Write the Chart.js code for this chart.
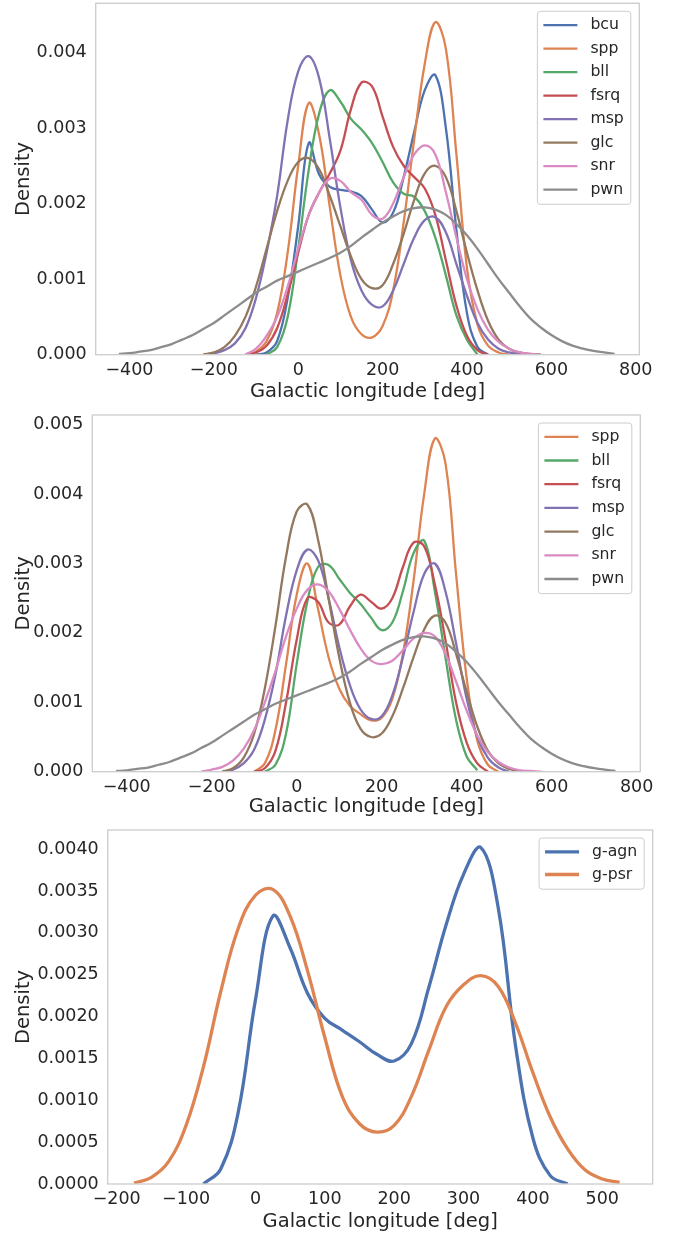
<!DOCTYPE html>
<html lang="en">
<head>
    <meta charset="UTF-8">
    <title>Galactic longitude density</title>
    <script src="https://cdn.jsdelivr.net/npm/chart.js"></script>
    <style>
        body { margin: 0; background: #fff; width: 681px; height: 1237px; position: relative; overflow: hidden; }
        .panel { position: absolute; left: 0; width: 681px; }
        .panel canvas { display: block; }
    </style>
</head>
<body>
    <div class="panel" style="top:0;height:410px"><canvas id="chartTop" width="681" height="410"></canvas></div>
    <div class="panel" style="top:410px;height:410px"><canvas id="chartMid" width="681" height="410"></canvas></div>
    <div class="panel" style="top:820px;height:417px"><canvas id="chartBottom" width="681" height="417"></canvas></div>

    <script>
        const _ = null;

        // longitude grid for the two upper panels
        const lonAB = [-425, -400, -375, -350, -325, -300, -275, -250,
            -225, -200, -175, -150, -125, -100,
            -75, -50, -25, 0, 25, 50, 75, 100, 125, 150, 175, 200,
            225, 250, 275, 300, 325, 350, 375, 400, 425, 450, 475, 500,
            525, 550, 575, 600, 625, 650, 675, 700, 725, 750];

        // top panel
        const bcuA = [_, _, _, _, _, _, _, _,
            _, _, _, _, _, 0,
            0.00003, 0.00018, 0.00075, 0.0017, 0.0028, 0.00238, 0.00222, 0.00218, 0.00216, 0.0021, 0.00192, 0.00175,
            0.00188, 0.00235, 0.00295, 0.0035, 0.0037, 0.003, 0.00165, 0.00055, 0.0001, 0, _, _,
            _, _, _, _, _, _, _, _, _, _];
        const sppA = [_, _, _, _, _, _, _, _,
            _, _, _, _, 0, 0.00004,
            0.00018, 0.00055, 0.00135, 0.0025, 0.00333, 0.0029, 0.00195, 0.00105, 0.0005, 0.00027, 0.00023, 0.00038,
            0.00085, 0.00175, 0.00285, 0.00385, 0.0044, 0.00405, 0.00265, 0.00115, 0.0004, 0.00012, 0.00003, 0,
            _, _, _, _, _, _, _, _, _, _];
        const bllA = [_, _, _, _, _, _, _, _,
            _, _, _, _, _, _,
            0, 0.0001, 0.0005, 0.0014, 0.00245, 0.0032, 0.0035, 0.00335, 0.00312, 0.00298, 0.0028, 0.00255,
            0.00228, 0.00213, 0.00209, 0.0019, 0.00155, 0.00105, 0.00052, 0.0002, 0, _, _, _,
            _, _, _, _, _, _, _, _, _, _];
        const fsrqA = [_, _, _, _, _, _, _, _,
            _, _, _, _, 0, 0.00003,
            0.00012, 0.00035, 0.0008, 0.00135, 0.00185, 0.00215, 0.0024, 0.0027, 0.00325, 0.0036, 0.00355, 0.00315,
            0.00275, 0.0025, 0.00235, 0.0022, 0.00185, 0.00125, 0.00065, 0.00025, 0.00006, 0, _, _,
            _, _, _, _, _, _, _, _, _, _];
        const mspA = [_, _, _, _, _, _, _, _,
            0, 0.00002, 0.00006, 0.00015, 0.00035, 0.00075,
            0.00135, 0.0021, 0.0031, 0.00375, 0.00395, 0.00365, 0.00285, 0.00195, 0.00125, 0.00085, 0.00066, 0.00064,
            0.00085, 0.0012, 0.00155, 0.00178, 0.00182, 0.00162, 0.0012, 0.00078, 0.00042, 0.0002, 0.00008, 0.00003,
            0.00001, 0, 0, _, _, _, _, _, _, _];
        const glcA = [_, _, _, _, _, _, _, _,
            0, 0.00003, 0.0001, 0.00025, 0.0005, 0.0009,
            0.0014, 0.0019, 0.0023, 0.00255, 0.0026, 0.00245, 0.0021, 0.0017, 0.0013, 0.001, 0.00088, 0.00092,
            0.0012, 0.0016, 0.00205, 0.0024, 0.0025, 0.00235, 0.0019, 0.00135, 0.00085, 0.00045, 0.0002, 0.00008,
            0.00003, 0.00001, 0, _, _, _, _, _, _, _];
        const snrA = [_, _, _, _, _, _, _, _,
            _, _, _, _, 0, 0.00008,
            0.00025, 0.0005, 0.0009, 0.0014, 0.00185, 0.00215, 0.00233, 0.0023, 0.00215, 0.00205, 0.00185, 0.0018,
            0.002, 0.00235, 0.00265, 0.00277, 0.00265, 0.00215, 0.00155, 0.001, 0.0006, 0.00033, 0.00017, 0.00008,
            0.00003, 0.00001, 0, _, _, _, _, _, _, _];
        const pwnAB = [0.00001, 0.00002, 0.00004, 0.00006, 0.0001, 0.00014, 0.0002, 0.00026,
            0.00034, 0.00042, 0.00052, 0.00062, 0.00072, 0.00082,
            0.0009, 0.00098, 0.00104, 0.0011, 0.00116, 0.00122, 0.00128, 0.00135, 0.00144, 0.00155, 0.00165, 0.00175,
            0.00183, 0.0019, 0.00194, 0.00195, 0.00192, 0.00185, 0.00173, 0.00158, 0.0014, 0.0012, 0.001, 0.00082,
            0.00064, 0.00048, 0.00036, 0.00026, 0.00018, 0.00012, 0.00008, 0.00005, 0.00003, 0.00001];

        // middle panel
        const sppB = [_, _, _, _, _, _, _, _,
            _, _, _, _, _, 0,
            0.00012, 0.0006, 0.00155, 0.00255, 0.003, 0.00235, 0.00165, 0.0012, 0.00095, 0.00083, 0.00074, 0.00078,
            0.00105, 0.0017, 0.00275, 0.004, 0.0048, 0.00445, 0.00285, 0.00135, 0.00045, 0.0001, 0, _,
            _, _, _, _, _, _, _, _, _, _];
        const bllB = [_, _, _, _, _, _, _, _,
            _, _, _, _, _, _,
            0, 0.0001, 0.00055, 0.00155, 0.00245, 0.00295, 0.00298, 0.00278, 0.00258, 0.00242, 0.00222, 0.00204,
            0.00215, 0.0026, 0.00315, 0.00333, 0.0026, 0.00165, 0.00075, 0.00022, 0.00002, _, _, _,
            _, _, _, _, _, _, _, _, _, _];
        const fsrqB = [_, _, _, _, _, _, _, _,
            _, _, _, _, _, 0,
            0.00005, 0.0003, 0.001, 0.0019, 0.0025, 0.00245, 0.00215, 0.00212, 0.00238, 0.00255, 0.00245, 0.00235,
            0.0025, 0.00295, 0.0033, 0.00325, 0.0027, 0.0019, 0.001, 0.00042, 0.00012, 0, _, _,
            _, _, _, _, _, _, _, _, _, _];
        const mspB = [_, _, _, _, _, _, _, _,
            _, _, 0, 0.00003, 0.00012, 0.00032,
            0.00075, 0.0014, 0.00225, 0.0029, 0.0032, 0.00305, 0.0025, 0.0018, 0.00125, 0.0009, 0.00076, 0.0008,
            0.0011, 0.00165, 0.0023, 0.00285, 0.003, 0.0026, 0.00185, 0.00105, 0.0005, 0.0002, 0.00006, 0,
            _, _, _, _, _, _, _, _, _, _];
        const glcB = [_, _, _, _, _, _, _, _,
            _, _, 0, 0.00005, 0.0002, 0.00055,
            0.0012, 0.0021, 0.0031, 0.00375, 0.00385, 0.00335, 0.0025, 0.00165, 0.001, 0.00062, 0.0005, 0.00055,
            0.0008, 0.0012, 0.00165, 0.00205, 0.00225, 0.00215, 0.0017, 0.00115, 0.00065, 0.0003, 0.00012, 0.00004,
            0.00001, 0, _, _, _, _, _, _, _, _];
        const snrB = [_, _, _, _, _, _, _, _,
            0, 0.00003, 0.00007, 0.00016, 0.00033, 0.0006,
            0.001, 0.00145, 0.00195, 0.00235, 0.00262, 0.0027, 0.0026, 0.00235, 0.00205, 0.00178, 0.0016, 0.00155,
            0.0016, 0.00175, 0.00192, 0.002, 0.00195, 0.0017, 0.0013, 0.00088, 0.00052, 0.00028, 0.00014, 0.00006,
            0.00002, 0.00001, 0, _, _, _, _, _, _, _];

        // bottom panel
        const lonC = [-175, -150, -125, -100, -75, -50, -25, 0, 25, 50, 75, 100, 125, 150, 175, 200,
            225, 250, 275, 300, 325, 350, 375, 400, 425, 450, 475, 500, 525, 550];
        const gAgn = [_, _, _, _, 0, 0.00018, 0.00085, 0.0022, 0.0032, 0.00282, 0.00228, 0.00198, 0.00184, 0.0017, 0.00155, 0.00147,
            0.00168, 0.00235, 0.0031, 0.0037, 0.00402, 0.0033, 0.00165, 0.00055, 0.0001, 0, _, _, _, _];
        const gPsr = [0.00001, 0.00008, 0.00027, 0.0007, 0.0014, 0.0023, 0.00305, 0.00345, 0.00352, 0.0032, 0.00255, 0.00175, 0.00105, 0.00072, 0.00062, 0.0007,
            0.00105, 0.0016, 0.00212, 0.00238, 0.00249, 0.00236, 0.00192, 0.00133, 0.0008, 0.00042, 0.00017, 0.00006, 0.00002, _];

        const colors = {
            bcu: '#4C72B0', spp: '#DD8452', bll: '#55A868', fsrq: '#C44E52',
            msp: '#8172B3', glc: '#937860', snr: '#DA8BC3', pwn: '#8C8C8C',
            'g-agn': '#4C72B0', 'g-psr': '#DD8452'
        };
        const inkColor = '#262626';
        const fontFamily = '"DejaVu Sans", "Liberation Sans", sans-serif';

        // light grey box round the plot area
        const framePlugin = {
            id: 'frame',
            afterDatasetsDraw(chart) {
                const a = chart.chartArea, ctx = chart.ctx;
                ctx.save();
                ctx.strokeStyle = '#cccccc';
                ctx.lineWidth = 1.3;
                ctx.strokeRect(a.left, a.top, a.right - a.left, a.bottom - a.top);
                ctx.restore();
            }
        };

        // matplotlib-like legend in the upper right corner
        const legendPlugin = {
            id: 'cornerLegend',
            afterDraw(chart, args, opts) {
                const a = chart.chartArea, ctx = chart.ctx;
                const sets = chart.data.datasets;
                ctx.save();
                ctx.font = '15.7px ' + fontFamily;
                const textW = Math.max(...sets.map(d => ctx.measureText(d.label).width));
                const w = 6 + 34 + 13 + textW + 7;
                const h = 28.5 + (sets.length - 1) * opts.rowGap;
                const x = a.right - 8.5 - w, y = a.top + 8, r = 3;

                ctx.beginPath();
                ctx.moveTo(x + r, y);
                ctx.arcTo(x + w, y, x + w, y + h, r);
                ctx.arcTo(x + w, y + h, x, y + h, r);
                ctx.arcTo(x, y + h, x, y, r);
                ctx.arcTo(x, y, x + w, y, r);
                ctx.closePath();
                ctx.fillStyle = 'rgba(255,255,255,0.8)';
                ctx.fill();
                ctx.strokeStyle = '#cccccc';
                ctx.lineWidth = 1;
                ctx.stroke();

                sets.forEach((d, i) => {
                    const cy = y + 13.8 + i * opts.rowGap;
                    ctx.strokeStyle = d.borderColor;
                    ctx.lineWidth = d.borderWidth;
                    ctx.beginPath();
                    ctx.moveTo(x + 6, cy);
                    ctx.lineTo(x + 40, cy);
                    ctx.stroke();
                    ctx.fillStyle = inkColor;
                    ctx.textBaseline = 'middle';
                    ctx.fillText(d.label, x + 53, cy);
                });
                ctx.restore();
            }
        };

        function minusSign(v) {
            return String(v).replace('-', '\u2212');
        }

        function makeChart(id, cfg) {
            const datasets = cfg.series.map((s, i) => ({
                label: s.label,
                data: cfg.lon.map((x, j) => ({ x: x, y: s.dens[j] })),
                borderColor: colors[s.label],
                borderWidth: cfg.lineWidth,
                pointRadius: 0,
                tension: 0.4,
                fill: false,
                spanGaps: false,
                order: cfg.series.length - i
            }));

            return new Chart(document.getElementById(id), {
                type: 'line',
                data: { datasets: datasets },
                options: {
                    responsive: false,
                    animation: false,
                    layout: { padding: { left: 0, top: cfg.padTop, right: cfg.padRight, bottom: 0 } },
                    plugins: {
                        legend: { display: false },
                        tooltip: { enabled: false },
                        cornerLegend: { rowGap: cfg.rowGap }
                    },
                    scales: {
                        x: {
                            type: 'linear',
                            min: cfg.xMin,
                            max: cfg.xMax,
                            // fixed axis box, no extra room for edge labels
                            afterFit: s => {
                                s.height = cfg.xAxisHeight;
                                s.paddingLeft = 0;
                                s.paddingRight = 0;
                            },
                            grid: { display: false, drawTicks: false },
                            border: { display: false },
                            ticks: {
                                stepSize: cfg.xStep,
                                includeBounds: false,
                                padding: 5,
                                color: inkColor,
                                font: { family: fontFamily, size: 17.5 },
                                callback: v => minusSign(v)
                            },
                            title: {
                                display: true,
                                text: 'Galactic longitude [deg]',
                                color: inkColor,
                                font: { family: fontFamily, size: 19.5 },
                                padding: { top: 0, bottom: cfg.xTitlePad }
                            }
                        },
                        y: {
                            min: 0,
                            max: cfg.yMax,
                            afterFit: s => {
                                s.width = cfg.yAxisWidth;
                                s.paddingTop = 0;
                                s.paddingBottom = 0;
                            },
                            grid: { display: false, drawTicks: false },
                            border: { display: false },
                            ticks: {
                                stepSize: cfg.yStep,
                                includeBounds: false,
                                padding: 9,
                                color: inkColor,
                                font: { family: fontFamily, size: 17.5 },
                                callback: v => v.toFixed(cfg.yDigits)
                            },
                            title: {
                                display: true,
                                text: 'Density',
                                color: inkColor,
                                font: { family: fontFamily, size: 19.5 },
                                padding: { top: 12.3, bottom: 0 }
                            }
                        }
                    }
                },
                plugins: [framePlugin, legendPlugin]
            });
        }

        makeChart('chartTop', {
            lon: lonAB,
            series: [
                { label: 'bcu', dens: bcuA }, { label: 'spp', dens: sppA },
                { label: 'bll', dens: bllA }, { label: 'fsrq', dens: fsrqA },
                { label: 'msp', dens: mspA }, { label: 'glc', dens: glcA },
                { label: 'snr', dens: snrA }, { label: 'pwn', dens: pwnAB }
            ],
            lineWidth: 2.3, rowGap: 23.5,
            xMin: -480, xMax: 808.5, xStep: 200,
            yMax: 0.00465, yStep: 0.001, yDigits: 3,
            padTop: 3.3, padRight: 41.7, xAxisHeight: 55.3, yAxisWidth: 95.7, xTitlePad: 6.3
        });

        makeChart('chartMid', {
            lon: lonAB,
            series: [
                { label: 'spp', dens: sppB }, { label: 'bll', dens: bllB },
                { label: 'fsrq', dens: fsrqB }, { label: 'msp', dens: mspB },
                { label: 'glc', dens: glcB }, { label: 'snr', dens: snrB },
                { label: 'pwn', dens: pwnAB }
            ],
            lineWidth: 2.3, rowGap: 23.7,
            xMin: -481, xMax: 808.6, xStep: 200,
            yMax: 0.00514, yStep: 0.001, yDigits: 3,
            padTop: 5, padRight: 40.7, xAxisHeight: 48.3, yAxisWidth: 92.3, xTitlePad: 1.6
        });

        makeChart('chartBottom', {
            lon: lonC,
            series: [{ label: 'g-agn', dens: gAgn }, { label: 'g-psr', dens: gPsr }],
            lineWidth: 3.3, rowGap: 22.7,
            xMin: -213, xMax: 572.7, xStep: 100,
            yMax: 0.00423, yStep: 0.0005, yDigits: 4,
            padTop: 10, padRight: 28.3, xAxisHeight: 53, yAxisWidth: 107.7, xTitlePad: 3.6
        });
    </script>
</body>
</html>
